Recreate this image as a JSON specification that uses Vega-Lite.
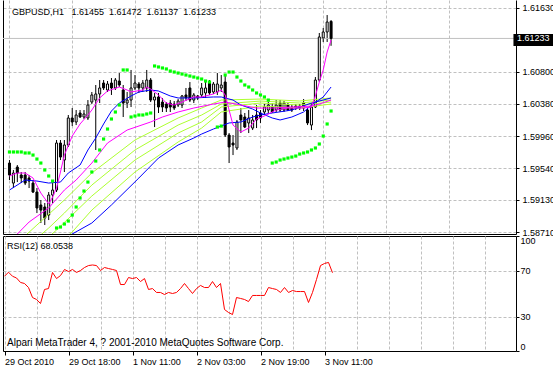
{
  "$schema": "https://vega.github.io/schema/vega-lite/v6.json",
  "padding": {"left": 2, "top": 0, "right": 0, "bottom": 0},
  "background": "white",
  "spacing": 2,
  "bounds": "flush",
  "config": {
    "font": "Liberation Sans",
    "view": {"stroke": null},
    "axis": {"labelFont": "Liberation Sans", "labelFontSize": 9, "labelColor": "black", "gridColor": "#C0C0C0", "gridDash": [3, 2], "gridWidth": 1, "gridOpacity": 1, "tickColor": "black", "domainColor": "black", "domainWidth": 1, "tickWidth": 1}
  },
  "datasets": {
    "candles": [
      {"i":0,"o":1.59609,"h":1.59648,"l":1.59388,"c":1.59453},
      {"i":1,"o":1.59348,"h":1.59518,"l":1.59283,"c":1.59479},
      {"i":2,"o":1.59557,"h":1.59583,"l":1.59361,"c":1.59479},
      {"i":3,"o":1.59453,"h":1.59492,"l":1.59348,"c":1.59414},
      {"i":4,"o":1.59453,"h":1.59492,"l":1.59322,"c":1.59348},
      {"i":5,"o":1.59414,"h":1.59453,"l":1.59283,"c":1.59374},
      {"i":6,"o":1.59348,"h":1.59388,"l":1.59218,"c":1.59231},
      {"i":7,"o":1.59231,"h":1.59283,"l":1.58957,"c":1.59023},
      {"i":8,"o":1.59062,"h":1.59127,"l":1.58827,"c":1.58996},
      {"i":9,"o":1.59036,"h":1.59088,"l":1.58801,"c":1.58892},
      {"i":10,"o":1.58931,"h":1.59231,"l":1.58866,"c":1.59192},
      {"i":11,"o":1.59192,"h":1.59348,"l":1.59088,"c":1.59257},
      {"i":12,"o":1.59257,"h":1.59909,"l":1.59231,"c":1.59870},
      {"i":13,"o":1.59870,"h":1.59909,"l":1.59648,"c":1.59687},
      {"i":14,"o":1.59648,"h":1.59909,"l":1.59492,"c":1.59844},
      {"i":15,"o":1.59844,"h":1.60235,"l":1.59818,"c":1.60196},
      {"i":16,"o":1.60196,"h":1.60326,"l":1.60091,"c":1.60144},
      {"i":17,"o":1.60144,"h":1.60300,"l":1.60104,"c":1.60235},
      {"i":18,"o":1.60261,"h":1.60300,"l":1.60196,"c":1.60209},
      {"i":19,"o":1.60209,"h":1.60300,"l":1.60183,"c":1.60248},
      {"i":20,"o":1.60196,"h":1.60430,"l":1.60170,"c":1.60365},
      {"i":21,"o":1.60404,"h":1.60535,"l":1.60378,"c":1.60496},
      {"i":22,"o":1.60430,"h":1.60626,"l":1.59779,"c":1.60509},
      {"i":23,"o":1.60509,"h":1.60691,"l":1.60391,"c":1.60587},
      {"i":24,"o":1.60652,"h":1.60691,"l":1.60561,"c":1.60587},
      {"i":25,"o":1.60561,"h":1.60678,"l":1.60535,"c":1.60639},
      {"i":26,"o":1.60652,"h":1.60717,"l":1.60496,"c":1.60587},
      {"i":27,"o":1.60587,"h":1.60717,"l":1.60561,"c":1.60691},
      {"i":28,"o":1.60678,"h":1.60782,"l":1.60600,"c":1.60626},
      {"i":29,"o":1.60561,"h":1.60626,"l":1.60209,"c":1.60391},
      {"i":30,"o":1.60391,"h":1.60535,"l":1.60326,"c":1.60430},
      {"i":31,"o":1.60430,"h":1.60822,"l":1.60339,"c":1.60587},
      {"i":32,"o":1.60587,"h":1.60756,"l":1.60561,"c":1.60652},
      {"i":33,"o":1.60639,"h":1.60665,"l":1.60522,"c":1.60587},
      {"i":34,"o":1.60587,"h":1.60691,"l":1.60535,"c":1.60652},
      {"i":35,"o":1.60587,"h":1.60822,"l":1.60535,"c":1.60691},
      {"i":36,"o":1.60691,"h":1.60717,"l":1.60404,"c":1.60430},
      {"i":37,"o":1.60430,"h":1.60522,"l":1.60078,"c":1.60470},
      {"i":38,"o":1.60470,"h":1.60522,"l":1.60261,"c":1.60339},
      {"i":39,"o":1.60404,"h":1.60457,"l":1.60274,"c":1.60339},
      {"i":40,"o":1.60378,"h":1.60404,"l":1.60274,"c":1.60326},
      {"i":41,"o":1.60391,"h":1.60430,"l":1.60274,"c":1.60339},
      {"i":42,"o":1.60378,"h":1.60417,"l":1.60300,"c":1.60326},
      {"i":43,"o":1.60365,"h":1.60443,"l":1.60339,"c":1.60417},
      {"i":44,"o":1.60365,"h":1.60496,"l":1.60326,"c":1.60483},
      {"i":45,"o":1.60496,"h":1.60587,"l":1.60417,"c":1.60457},
      {"i":46,"o":1.60587,"h":1.60665,"l":1.60404,"c":1.60430},
      {"i":47,"o":1.60430,"h":1.60522,"l":1.60391,"c":1.60496},
      {"i":48,"o":1.60483,"h":1.60496,"l":1.60430,"c":1.60457},
      {"i":49,"o":1.60496,"h":1.60652,"l":1.60470,"c":1.60587},
      {"i":50,"o":1.60522,"h":1.60665,"l":1.60457,"c":1.60587},
      {"i":51,"o":1.60652,"h":1.60691,"l":1.60496,"c":1.60522},
      {"i":52,"o":1.60535,"h":1.60665,"l":1.60509,"c":1.60639},
      {"i":53,"o":1.60535,"h":1.60782,"l":1.60496,"c":1.60639},
      {"i":54,"o":1.60587,"h":1.60756,"l":1.60535,"c":1.60626},
      {"i":55,"o":1.60665,"h":1.60756,"l":1.59948,"c":1.59974},
      {"i":56,"o":1.59974,"h":1.60000,"l":1.59609,"c":1.59818},
      {"i":57,"o":1.59870,"h":1.59974,"l":1.59713,"c":1.59844},
      {"i":58,"o":1.59805,"h":1.60170,"l":1.59779,"c":1.60144},
      {"i":59,"o":1.60235,"h":1.60326,"l":1.60000,"c":1.60170},
      {"i":60,"o":1.60209,"h":1.60261,"l":1.60065,"c":1.60078},
      {"i":61,"o":1.60131,"h":1.60300,"l":1.60000,"c":1.60196},
      {"i":62,"o":1.60065,"h":1.60235,"l":1.60039,"c":1.60170},
      {"i":63,"o":1.60235,"h":1.60365,"l":1.60065,"c":1.60170},
      {"i":64,"o":1.60261,"h":1.60300,"l":1.60131,"c":1.60196},
      {"i":65,"o":1.60274,"h":1.60378,"l":1.60235,"c":1.60339},
      {"i":66,"o":1.60300,"h":1.60430,"l":1.60261,"c":1.60365},
      {"i":67,"o":1.60339,"h":1.60391,"l":1.60261,"c":1.60274},
      {"i":68,"o":1.60300,"h":1.60430,"l":1.60274,"c":1.60365},
      {"i":69,"o":1.60391,"h":1.60430,"l":1.60274,"c":1.60300},
      {"i":70,"o":1.60300,"h":1.60417,"l":1.60274,"c":1.60391},
      {"i":71,"o":1.60365,"h":1.60391,"l":1.60287,"c":1.60300},
      {"i":72,"o":1.60339,"h":1.60378,"l":1.60274,"c":1.60300},
      {"i":73,"o":1.60352,"h":1.60378,"l":1.60300,"c":1.60326},
      {"i":74,"o":1.60352,"h":1.60378,"l":1.60300,"c":1.60326},
      {"i":75,"o":1.60391,"h":1.60443,"l":1.60287,"c":1.60326},
      {"i":76,"o":1.60300,"h":1.60326,"l":1.60104,"c":1.60131},
      {"i":77,"o":1.60104,"h":1.60391,"l":1.60039,"c":1.60339},
      {"i":78,"o":1.60339,"h":1.60730,"l":1.60326,"c":1.60691},
      {"i":79,"o":1.60691,"h":1.61304,"l":1.60665,"c":1.61252},
      {"i":80,"o":1.61239,"h":1.61369,"l":1.61187,"c":1.61317},
      {"i":81,"o":1.61317,"h":1.61538,"l":1.61187,"c":1.61447},
      {"i":82,"o":1.61455,"h":1.61472,"l":1.61137,"c":1.61233}
    ],
    "sar": [
      {"i":0,"p":1.59753},{"i":1,"p":1.59753},{"i":2,"p":1.59753},{"i":3,"p":1.59753},{"i":4,"p":1.59740},{"i":5,"p":1.59740},{"i":6,"p":1.59713},{"i":7,"p":1.59661},{"i":8,"p":1.59609},{"i":9,"p":1.59518},{"i":10,"p":1.59440},{"i":11,"p":1.59374},
      {"i":12,"p":1.58762},{"i":13,"p":1.58775},{"i":14,"p":1.58814},{"i":15,"p":1.58853},{"i":16,"p":1.58931},{"i":17,"p":1.59036},{"i":18,"p":1.59153},{"i":19,"p":1.59244},{"i":20,"p":1.59361},{"i":21,"p":1.59492},{"i":22,"p":1.59635},{"i":23,"p":1.59779},{"i":24,"p":1.59922},{"i":25,"p":1.60052},{"i":26,"p":1.60183},{"i":27,"p":1.60274},{"i":28,"p":1.60365},
      {"i":29,"p":1.60822},{"i":30,"p":1.60822},
      {"i":31,"p":1.60209},{"i":32,"p":1.60222},{"i":33,"p":1.60235},{"i":34,"p":1.60235},{"i":35,"p":1.60248},{"i":36,"p":1.60261},
      {"i":37,"p":1.60874},{"i":38,"p":1.60861},{"i":39,"p":1.60848},{"i":40,"p":1.60835},{"i":41,"p":1.60808},{"i":42,"p":1.60795},{"i":43,"p":1.60782},{"i":44,"p":1.60769},{"i":45,"p":1.60756},{"i":46,"p":1.60743},{"i":47,"p":1.60730},{"i":48,"p":1.60717},{"i":49,"p":1.60704},{"i":50,"p":1.60678},{"i":51,"p":1.60665},
      {"i":53,"p":1.60078},{"i":54,"p":1.60091},
      {"i":55,"p":1.60756},{"i":56,"p":1.60795},{"i":57,"p":1.60795},{"i":58,"p":1.60730},{"i":59,"p":1.60678},{"i":60,"p":1.60626},{"i":61,"p":1.60600},{"i":62,"p":1.60561},{"i":63,"p":1.60522},{"i":64,"p":1.60496},{"i":65,"p":1.60470},{"i":66,"p":1.60430},
      {"i":67,"p":1.59609},{"i":68,"p":1.59622},{"i":69,"p":1.59648},{"i":70,"p":1.59661},{"i":71,"p":1.59674},{"i":72,"p":1.59687},{"i":73,"p":1.59700},{"i":74,"p":1.59726},{"i":75,"p":1.59740},{"i":76,"p":1.59753},{"i":77,"p":1.59779},{"i":78,"p":1.59805},{"i":79,"p":1.59857},{"i":80,"p":1.59961},{"i":81,"p":1.60118},{"i":82,"p":1.60287}
    ],
    "ma": [
      {"s":"G4","i":0,"p":1.58019},{"s":"G4","i":16,"p":1.58710},{"s":"G4","i":21,"p":1.58996},{"s":"G4","i":32,"p":1.59492},{"s":"G4","i":43,"p":1.59883},{"s":"G4","i":49,"p":1.60065},{"s":"G4","i":54,"p":1.60274},{"s":"G4","i":64,"p":1.60352},{"s":"G4","i":74,"p":1.60326},{"s":"G4","i":82,"p":1.60378},
      {"s":"G3","i":0,"p":1.58188},{"s":"G3","i":12,"p":1.58736},{"s":"G3","i":21,"p":1.59179},{"s":"G3","i":32,"p":1.59648},{"s":"G3","i":43,"p":1.60000},{"s":"G3","i":49,"p":1.60144},{"s":"G3","i":54,"p":1.60339},{"s":"G3","i":64,"p":1.60391},{"s":"G3","i":74,"p":1.60365},{"s":"G3","i":82,"p":1.60404},
      {"s":"G2","i":0,"p":1.58319},{"s":"G2","i":10,"p":1.58762},{"s":"G2","i":14,"p":1.58957},{"s":"G2","i":21,"p":1.59322},{"s":"G2","i":32,"p":1.59779},{"s":"G2","i":43,"p":1.60104},{"s":"G2","i":49,"p":1.60235},{"s":"G2","i":54,"p":1.60378},{"s":"G2","i":64,"p":1.60417},{"s":"G2","i":74,"p":1.60391},{"s":"G2","i":82,"p":1.60430},
      {"s":"G1","i":0,"p":1.58475},{"s":"G1","i":7,"p":1.58801},{"s":"G1","i":14,"p":1.59127},{"s":"G1","i":21,"p":1.59479},{"s":"G1","i":32,"p":1.59909},{"s":"G1","i":43,"p":1.60196},{"s":"G1","i":49,"p":1.60326},{"s":"G1","i":54,"p":1.60430},{"s":"G1","i":64,"p":1.60443},{"s":"G1","i":74,"p":1.60417},{"s":"G1","i":82,"p":1.60457},
      {"s":"B2","i":13,"p":1.58605},{"s":"B2","i":16,"p":1.58684},{"s":"B2","i":21,"p":1.58827},{"s":"B2","i":26,"p":1.59062},{"s":"B2","i":33,"p":1.59414},{"s":"B2","i":38,"p":1.59674},{"s":"B2","i":43,"p":1.59844},{"s":"B2","i":47,"p":1.59935},{"s":"B2","i":49,"p":1.59987},{"s":"B2","i":52,"p":1.60052},{"s":"B2","i":56,"p":1.60131},{"s":"B2","i":59,"p":1.60144},{"s":"B2","i":62,"p":1.60209},{"s":"B2","i":64,"p":1.60235},{"s":"B2","i":67,"p":1.60261},{"s":"B2","i":72,"p":1.60300},{"s":"B2","i":77,"p":1.60391},{"s":"B2","i":82,"p":1.60457},
      {"s":"B1","i":0,"p":1.59257},{"s":"B1","i":4,"p":1.59388},{"s":"B1","i":7,"p":1.59374},{"s":"B1","i":10,"p":1.59348},{"s":"B1","i":13,"p":1.59361},{"s":"B1","i":15,"p":1.59479},{"s":"B1","i":18,"p":1.59583},{"s":"B1","i":20,"p":1.59779},{"s":"B1","i":22,"p":1.59935},{"s":"B1","i":24,"p":1.60118},{"s":"B1","i":26,"p":1.60287},{"s":"B1","i":28,"p":1.60391},{"s":"B1","i":31,"p":1.60483},{"s":"B1","i":33,"p":1.60535},{"s":"B1","i":36,"p":1.60561},{"s":"B1","i":38,"p":1.60548},{"s":"B1","i":41,"p":1.60483},{"s":"B1","i":43,"p":1.60457},{"s":"B1","i":47,"p":1.60457},{"s":"B1","i":52,"p":1.60470},{"s":"B1","i":54,"p":1.60470},{"s":"B1","i":57,"p":1.60430},{"s":"B1","i":59,"p":1.60365},{"s":"B1","i":62,"p":1.60313},{"s":"B1","i":64,"p":1.60261},{"s":"B1","i":67,"p":1.60196},{"s":"B1","i":69,"p":1.60170},{"s":"B1","i":72,"p":1.60209},{"s":"B1","i":75,"p":1.60274},{"s":"B1","i":77,"p":1.60365},{"s":"B1","i":80,"p":1.60470},{"s":"B1","i":82,"p":1.60600},
      {"s":"M2","i":0,"p":1.58605},{"s":"M2","i":2,"p":1.58684},{"s":"M2","i":5,"p":1.58840},{"s":"M2","i":10,"p":1.59023},{"s":"M2","i":14,"p":1.59257},{"s":"M2","i":17,"p":1.59388},{"s":"M2","i":21,"p":1.59609},{"s":"M2","i":25,"p":1.59870},{"s":"M2","i":30,"p":1.60039},{"s":"M2","i":36,"p":1.60144},{"s":"M2","i":39,"p":1.60209},{"s":"M2","i":43,"p":1.60274},{"s":"M2","i":47,"p":1.60326},{"s":"M2","i":52,"p":1.60378},{"s":"M2","i":55,"p":1.60404},{"s":"M2","i":59,"p":1.60365},{"s":"M2","i":63,"p":1.60326},{"s":"M2","i":67,"p":1.60326},{"s":"M2","i":72,"p":1.60339},{"s":"M2","i":77,"p":1.60352},{"s":"M2","i":79,"p":1.60378},{"s":"M2","i":82,"p":1.60430},
      {"s":"M1","i":0,"p":1.59440},{"s":"M1","i":2,"p":1.59479},{"s":"M1","i":4,"p":1.59479},{"s":"M1","i":6,"p":1.59414},{"s":"M1","i":8,"p":1.59218},{"s":"M1","i":10,"p":1.59075},{"s":"M1","i":11,"p":1.59166},{"s":"M1","i":12,"p":1.59283},{"s":"M1","i":13,"p":1.59492},{"s":"M1","i":14,"p":1.59713},{"s":"M1","i":16,"p":1.59961},{"s":"M1","i":18,"p":1.60118},{"s":"M1","i":20,"p":1.60235},{"s":"M1","i":21,"p":1.60300},{"s":"M1","i":23,"p":1.60457},{"s":"M1","i":25,"p":1.60548},{"s":"M1","i":28,"p":1.60600},{"s":"M1","i":30,"p":1.60561},{"s":"M1","i":31,"p":1.60535},{"s":"M1","i":34,"p":1.60561},{"s":"M1","i":35,"p":1.60600},{"s":"M1","i":36,"p":1.60574},{"s":"M1","i":38,"p":1.60496},{"s":"M1","i":40,"p":1.60391},{"s":"M1","i":42,"p":1.60365},{"s":"M1","i":44,"p":1.60404},{"s":"M1","i":47,"p":1.60470},{"s":"M1","i":49,"p":1.60470},{"s":"M1","i":52,"p":1.60509},{"s":"M1","i":54,"p":1.60561},{"s":"M1","i":55,"p":1.60496},{"s":"M1","i":56,"p":1.60300},{"s":"M1","i":57,"p":1.60104},{"s":"M1","i":59,"p":1.60013},{"s":"M1","i":61,"p":1.60065},{"s":"M1","i":63,"p":1.60183},{"s":"M1","i":65,"p":1.60222},{"s":"M1","i":68,"p":1.60300},{"s":"M1","i":71,"p":1.60326},{"s":"M1","i":75,"p":1.60326},{"s":"M1","i":77,"p":1.60339},{"s":"M1","i":78,"p":1.60483},{"s":"M1","i":79,"p":1.60665},{"s":"M1","i":80,"p":1.60822},{"s":"M1","i":81,"p":1.61056},{"s":"M1","i":82,"p":1.61213}
    ],
    "rsi": [
      {"i":0,"v":65.0},{"i":1,"v":68.5},{"i":2,"v":65.0},{"i":3,"v":63.5},{"i":4,"v":59.6},{"i":5,"v":58.7},{"i":6,"v":55.2},{"i":7,"v":46.5},{"i":8,"v":44.8},{"i":9,"v":41.3},{"i":10,"v":53.5},{"i":11,"v":54.3},{"i":12,"v":68.3},{"i":13,"v":63.0},{"i":14,"v":65.6},{"i":15,"v":70.9},{"i":16,"v":69.1},{"i":17,"v":70.9},{"i":18,"v":68.3},{"i":19,"v":70.0},{"i":20,"v":72.6},{"i":21,"v":74.3},{"i":22,"v":74.8},{"i":23,"v":74.3},{"i":24,"v":70.0},{"i":25,"v":72.6},{"i":26,"v":71.7},{"i":27,"v":70.9},{"i":28,"v":70.0},{"i":29,"v":57.8},{"i":30,"v":57.8},{"i":31,"v":63.9},{"i":32,"v":63.0},{"i":33,"v":63.9},{"i":34,"v":60.4},{"i":35,"v":63.0},{"i":36,"v":53.5},{"i":37,"v":54.3},{"i":38,"v":50.9},{"i":39,"v":50.9},{"i":40,"v":49.1},{"i":41,"v":50.9},{"i":42,"v":50.0},{"i":43,"v":50.9},{"i":44,"v":54.3},{"i":45,"v":58.7},{"i":46,"v":54.3},{"i":47,"v":50.0},{"i":48,"v":54.3},{"i":49,"v":57.0},{"i":50,"v":55.2},{"i":51,"v":55.2},{"i":52,"v":60.4},{"i":53,"v":55.2},{"i":54,"v":58.7},{"i":55,"v":36.1},{"i":56,"v":33.5},{"i":57,"v":31.7},{"i":58,"v":46.5},{"i":59,"v":45.7},{"i":60,"v":44.8},{"i":61,"v":43.0},{"i":62,"v":48.3},{"i":63,"v":48.3},{"i":64,"v":48.3},{"i":65,"v":48.3},{"i":66,"v":55.2},{"i":67,"v":54.3},{"i":68,"v":53.5},{"i":69,"v":50.9},{"i":70,"v":55.2},{"i":71,"v":50.9},{"i":72,"v":52.6},{"i":73,"v":51.7},{"i":74,"v":51.7},{"i":75,"v":51.7},{"i":76,"v":42.2},{"i":77,"v":50.9},{"i":78,"v":62.2},{"i":79,"v":74.3},{"i":80,"v":76.1},{"i":81,"v":77.0},{"i":82,"v":68.0538}
    ]
  },
  "vconcat": [
    {
      "width": 513,
      "height": 234,
      "resolve": {"axis": {"y": "independent"}},
      "layer": [
        {
          "data": {"name": "candles"},
          "mark": {"type": "rule", "color": "black", "strokeWidth": 1, "clip": true},
          "encoding": {
            "x": {"field": "i", "type": "quantitative", "title": null,
              "scale": {"domain": [-0.375, 127.875], "nice": false, "zero": false},
              "axis": {"orient": "bottom", "values": [0,8,16,24,32,40,48,56,64,72,80,88,96,104,112,120], "grid": true, "domain": true, "ticks": false, "labels": false}},
            "y": {"field": "l", "type": "quantitative", "title": null,
              "scale": {"domain": [1.58684, 1.61734], "nice": false, "zero": false},
              "axis": {"orient": "right", "values": [1.5871, 1.5913, 1.5954, 1.5996, 1.6038, 1.608, 1.6163], "format": ".5f", "domain": true, "ticks": true, "tickSize": 3, "labelPadding": 3, "grid": true, "labelFlush": false, "labelOverlap": false}},
            "y2": {"field": "h"}
          }
        },
        {
          "data": {"values": [{}]},
          "mark": {"type": "rule", "color": "#C0C0C0", "strokeWidth": 1},
          "encoding": {
            "y": {"datum": 1.61233, "type": "quantitative", "scale": {"domain": [1.58684, 1.61734], "nice": false, "zero": false}, "axis": null}
          }
        },
        {
          "data": {"name": "candles"},
          "mark": {"type": "bar", "size": 2, "stroke": "black", "strokeWidth": 1, "clip": true},
          "encoding": {
            "x": {"field": "i", "type": "quantitative", "title": null, "scale": {"domain": [-0.375, 127.875], "nice": false, "zero": false}},
            "y": {"field": "o", "type": "quantitative", "title": null, "scale": {"domain": [1.58684, 1.61734], "nice": false, "zero": false}, "axis": null},
            "y2": {"field": "c"},
            "fill": {"condition": {"test": "datum.c >= datum.o", "value": "white"}, "value": "black"}
          }
        },
        {
          "data": {"name": "ma"},
          "mark": {"type": "line", "strokeWidth": 1, "clip": true},
          "encoding": {
            "x": {"field": "i", "type": "quantitative", "title": null, "scale": {"domain": [-0.375, 127.875], "nice": false, "zero": false}},
            "y": {"field": "p", "type": "quantitative", "title": null, "scale": {"domain": [1.58684, 1.61734], "nice": false, "zero": false},
              "axis": {"orient": "left", "domain": true, "ticks": false, "labels": false, "grid": false}},
            "color": {"field": "s", "type": "nominal", "legend": null,
              "scale": {"domain": ["G4","G3","G2","G1","B2","B1","M2","M1"], "range": ["#ADFF2F","#ADFF2F","#ADFF2F","#ADFF2F","#0000FF","#0000FF","#FF00FF","#FF00FF"]}},
            "order": {"field": "i", "type": "quantitative"}
          }
        },
        {
          "data": {"name": "sar"},
          "mark": {"type": "square", "size": 10, "color": "#00FF00", "filled": true, "opacity": 1, "clip": true},
          "encoding": {
            "x": {"field": "i", "type": "quantitative", "title": null, "scale": {"domain": [-0.375, 127.875], "nice": false, "zero": false}},
            "y": {"field": "p", "type": "quantitative", "title": null, "scale": {"domain": [1.58684, 1.61734], "nice": false, "zero": false}, "axis": null}
          }
        },
        {
          "data": {"values": [{}]},
          "mark": {"type": "rect", "color": "black", "clip": false},
          "encoding": {
            "x": {"datum": 128.5, "type": "quantitative", "scale": {"domain": [-0.375, 127.875], "nice": false, "zero": false}},
            "x2": {"datum": 140},
            "y": {"datum": 1.61291, "type": "quantitative", "scale": {"domain": [1.58684, 1.61734], "nice": false, "zero": false}, "axis": null},
            "y2": {"datum": 1.61134}
          }
        },
        {
          "data": {"values": [{}]},
          "mark": {"type": "text", "color": "white", "align": "left", "baseline": "middle", "fontSize": 9, "font": "Liberation Sans", "clip": false},
          "encoding": {
            "x": {"datum": 129.375, "type": "quantitative", "scale": {"domain": [-0.375, 127.875], "nice": false, "zero": false}},
            "y": {"datum": 1.61233, "type": "quantitative", "scale": {"domain": [1.58684, 1.61734], "nice": false, "zero": false}, "axis": null},
            "text": {"value": "1.61233"}
          }
        },
        {
          "data": {"values": [{}]},
          "mark": {"type": "text", "color": "black", "align": "left", "baseline": "middle", "fontSize": 9, "font": "Liberation Sans"},
          "encoding": {
            "x": {"datum": 0.625, "type": "quantitative", "scale": {"domain": [-0.375, 127.875], "nice": false, "zero": false}},
            "y": {"datum": 1.61578, "type": "quantitative", "scale": {"domain": [1.58684, 1.61734], "nice": false, "zero": false}, "axis": null},
            "text": {"value": "GBPUSD,H1\u00a0\u00a0 1.61455\u00a0 1.61472\u00a0 1.61137\u00a0 1.61233"}
          }
        }
      ]
    },
    {
      "width": 513,
      "height": 115,
      "view": {"stroke": "black", "strokeWidth": 1},
      "resolve": {"axis": {"x": "independent", "y": "independent"}},
      "layer": [
        {
          "data": {"name": "rsi"},
          "mark": {"type": "line", "color": "#FF0000", "strokeWidth": 1, "clip": true},
          "encoding": {
            "x": {"field": "i", "type": "quantitative", "title": null,
              "scale": {"domain": [-0.375, 127.875], "nice": false, "zero": false},
              "axis": {"orient": "bottom", "values": [0,8,16,24,32,40,48,56,64,72,80,88,96,104,112,120], "grid": true, "domain": false, "ticks": true, "tickSize": 4,
                "tickOpacity": {"condition": {"test": "datum.value % 16 == 0 && datum.value <= 80", "value": 1}, "value": 0},
                "labelExpr": "datum.value == 0 ? '29 Oct 2010' : datum.value == 16 ? '29 Oct 18:00' : datum.value == 32 ? '1 Nov 11:00' : datum.value == 48 ? '2 Nov 03:00' : datum.value == 64 ? '2 Nov 19:00' : datum.value == 80 ? '3 Nov 11:00' : ''",
                "labelAlign": "left", "labelBaseline": "top", "labelPadding": 2, "labelFlush": false, "labelOverlap": false, "labelFontSize": 9}},
            "y": {"field": "v", "type": "quantitative", "title": null,
              "scale": {"domain": [0, 100], "nice": false},
              "axis": {"orient": "right", "values": [0, 30, 70, 100], "domain": false, "ticks": true, "tickSize": 3, "labelPadding": 1, "labelFlush": true, "labelOverlap": false, "grid": true,
                "gridOpacity": {"condition": {"test": "datum.value == 0 || datum.value == 100", "value": 0}, "value": 1}, "labelFontSize": 9}}
          }
        },
        {
          "data": {"values": [{}]},
          "mark": {"type": "text", "color": "black", "align": "left", "baseline": "middle", "fontSize": 9, "font": "Liberation Sans"},
          "encoding": {
            "x": {"datum": 0.625, "type": "quantitative", "scale": {"domain": [-0.375, 127.875], "nice": false, "zero": false}, "axis": null},
            "y": {"datum": 91.3, "type": "quantitative", "scale": {"domain": [0, 100], "nice": false}, "axis": null},
            "text": {"value": "RSI(12) 68.0538"}
          }
        },
        {
          "data": {"values": [{}]},
          "mark": {"type": "text", "color": "black", "align": "left", "baseline": "middle", "fontSize": 10, "font": "Liberation Sans"},
          "encoding": {
            "x": {"datum": 0.625, "type": "quantitative", "scale": {"domain": [-0.375, 127.875], "nice": false, "zero": false}, "axis": null},
            "y": {"datum": 7.2, "type": "quantitative", "scale": {"domain": [0, 100], "nice": false}, "axis": null},
            "text": {"value": "Alpari MetaTrader 4, ? 2001-2010 MetaQuotes Software Corp."}
          }
        }
      ]
    }
  ]
}
